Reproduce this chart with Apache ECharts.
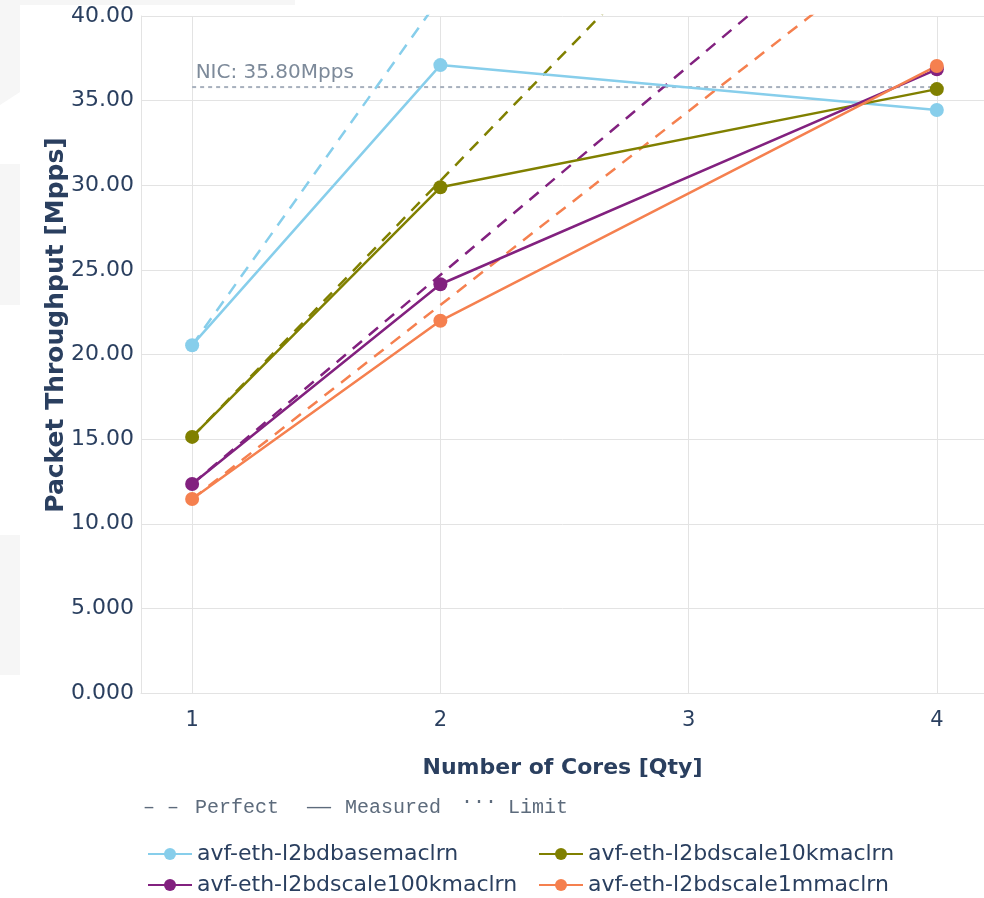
<!DOCTYPE html>
<html>
<head>
<meta charset="utf-8">
<script src="https://cdn.jsdelivr.net/npm/echarts@6/dist/echarts.min.js"></script>
<style>
  html, body { margin: 0; padding: 0; background: #ffffff; }
  #chart { width: 984px; height: 898px; }
</style>
</head>
<body>
<div id="chart"></div>
<script>
// Core counts at which each test was measured
const cores = [1, 2, 4];
const xTicks = [1, 2, 3, 4];

// Test names
const testNames = [
  'avf-eth-l2bdbasemaclrn',
  'avf-eth-l2bdscale10kmaclrn',
  'avf-eth-l2bdscale100kmaclrn',
  'avf-eth-l2bdscale1mmaclrn'
];

// Measured throughput [Mpps] per core count
const measuredBase = [20.55, 37.10, 34.45];
const measured10k = [15.13, 29.88, 35.68];
const measured100k = [12.35, 24.15, 36.85];
const measured1m = [11.46, 21.99, 37.05];

// Ideal linear scaling from the single-core result [Mpps]
const perfectBase = [20.55, 41.10, 82.20];
const perfect10k = [15.13, 30.26, 60.52];
const perfect100k = [12.35, 24.70, 49.40];
const perfect1m = [11.46, 22.92, 45.84];

// NIC limit [Mpps]
const nicLimit = 35.8;
const nicRange = [1, 4];

const colors = ['#87CEEB', '#808000', '#82217f', '#F5804F'];

const measured = [measuredBase, measured10k, measured100k, measured1m];
const perfect = [perfectBase, perfect10k, perfect100k, perfect1m];

const pairs = (vals) => cores.map((c, i) => [c, vals[i]]);

const series = [];

series.push({
  name: 'NIC',
  type: 'line',
  z: 1,
  silent: true,
  symbol: 'circle',
  symbolSize: 1,
  itemStyle: { color: 'rgba(0,0,0,0)' },
  lineStyle: { color: '#A7B0BD', width: 2, type: [4, 4] },
  data: [
    {
      value: [nicRange[0], nicLimit],
      label: {
        show: true,
        position: 'right',
        distance: 3,
        offset: [0, -14],
        formatter: 'NIC: ' + nicLimit.toFixed(2) + 'Mpps',
        color: '#7D8A9A',
        fontSize: 20,
        fontFamily: 'DejaVu Sans'
      }
    },
    [nicRange[1], nicLimit]
  ]
});

testNames.forEach((name, i) => {
  series.push({
    name: name + ' perfect',
    type: 'line',
    z: 2,
    silent: true,
    symbol: 'none',
    clip: true,
    lineStyle: { color: colors[i], width: 2.5, type: [12, 9] },
    data: pairs(perfect[i])
  });
});

testNames.forEach((name, i) => {
  series.push({
    name: name,
    type: 'line',
    z: 3,
    symbol: 'circle',
    symbolSize: 14,
    clip: true,
    color: colors[i],
    lineStyle: { color: colors[i], width: 2.5 },
    itemStyle: { color: colors[i] },
    data: pairs(measured[i])
  });
});

const legendBase = {
  orient: 'vertical',
  top: 843,
  padding: 0,
  itemWidth: 44,
  itemHeight: 15,
  itemGap: 9,
  textStyle: { color: '#2a3f5f', fontSize: 22, fontFamily: 'DejaVu Sans', lineHeight: 20 }
};

const panelFill = '#f6f6f6';
const keyFont = '20px "Liberation Mono"';
const keyColor = '#5d6b7c';

const option = {
  backgroundColor: '#ffffff',
  animation: false,
  grid: { left: 141, right: 0, top: 16, bottom: 205, containLabel: false },
  xAxis: {
    type: 'value',
    min: 0.794,
    max: 4.19,
    axisTick: { show: false, customValues: xTicks },
    axisLabel: {
      customValues: xTicks,
      color: '#2a3f5f',
      fontSize: 21,
      fontFamily: 'DejaVu Sans',
      margin: 17
    },
    axisLine: { show: true, onZero: false, lineStyle: { color: '#e3e3e3', width: 1 } },
    splitLine: { show: true, lineStyle: { color: '#e3e3e3', width: 1 } },
    name: 'Number of Cores [Qty]',
    nameLocation: 'middle',
    nameGap: 64,
    nameTextStyle: { color: '#2a3f5f', fontSize: 22, fontWeight: 'bold', fontFamily: 'DejaVu Sans' }
  },
  yAxis: {
    type: 'value',
    min: 0,
    max: 40,
    interval: 5,
    axisTick: { show: false },
    axisLine: { show: true, lineStyle: { color: '#e3e3e3', width: 1 } },
    splitLine: { show: true, lineStyle: { color: '#e3e3e3', width: 1 } },
    axisLabel: {
      color: '#2a3f5f',
      fontSize: 22,
      fontFamily: 'DejaVu Sans',
      margin: 7,
      formatter: (v) => (v >= 10 ? v.toFixed(2) : v.toFixed(3))
    }
  },
  legend: [
    Object.assign({}, legendBase, { left: 147, data: [testNames[0], testNames[2]] }),
    Object.assign({}, legendBase, { left: 538, data: [testNames[1], testNames[3]] })
  ],
  graphic: [
    // faint page panels behind the chart on the left
    { type: 'polygon', z: -10, silent: true,
      shape: { points: [[0, 0], [295, 0], [295, 5], [20, 5], [20, 92], [0, 105]] },
      style: { fill: panelFill } },
    { type: 'rect', z: -10, silent: true, shape: { x: 0, y: 164, width: 20, height: 141 }, style: { fill: panelFill } },
    { type: 'rect', z: -10, silent: true, shape: { x: 0, y: 535, width: 20, height: 140 }, style: { fill: panelFill } },
    // y-axis title
    { type: 'text', x: 56, y: 325, rotation: Math.PI / 2, silent: true,
      style: { text: 'Packet Throughput [Mpps]', fill: '#2a3f5f', align: 'center', verticalAlign: 'middle',
               font: 'bold 25px "DejaVu Sans"' } },
    // line-style key
    { type: 'text', left: 143, top: 798, silent: true, style: { text: '– –', fill: keyColor, font: keyFont } },
    { type: 'text', left: 195, top: 798, silent: true, style: { text: 'Perfect', fill: keyColor, font: keyFont } },
    { type: 'text', left: 307, top: 798, silent: true, style: { text: '——', fill: keyColor, font: keyFont } },
    { type: 'text', left: 345, top: 798, silent: true, style: { text: 'Measured', fill: keyColor, font: keyFont } },
    { type: 'text', left: 461, top: 788, silent: true, style: { text: '...', fill: keyColor, font: keyFont } },
    { type: 'text', left: 508, top: 798, silent: true, style: { text: 'Limit', fill: keyColor, font: keyFont } }
  ],
  series: series
};

const chart = echarts.init(document.getElementById('chart'), null, { renderer: 'canvas' });
chart.setOption(option);
</script>
</body>
</html>
